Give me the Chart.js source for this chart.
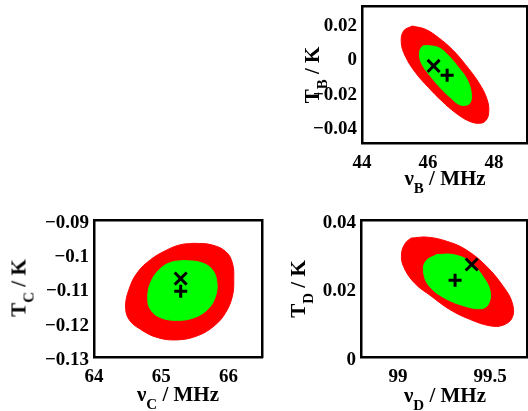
<!DOCTYPE html>
<html><head><meta charset="utf-8">
<script src="https://cdn.jsdelivr.net/npm/chart.js@4"></script>
<style>
html,body{margin:0;padding:0;background:#fff;}
body{width:528px;height:411px;position:relative;overflow:hidden;font-family:"Liberation Serif","Times New Roman",serif;font-weight:bold;}
canvas{position:absolute;}
.t{position:absolute;font-size:21px;line-height:21px;white-space:nowrap;color:#000;}
.t sub{font-size:15px;vertical-align:-8px;line-height:0;}
.ty{transform:translate(-50%,-50%) rotate(-90deg);}
.tx{transform:translate(-50%,0);}
</style></head><body>
<canvas id="cB" width="258" height="205" style="left:270px;top:0px"></canvas>
<canvas id="cC" width="270" height="206" style="left:0px;top:205px"></canvas>
<canvas id="cD" width="258" height="206" style="left:270px;top:205px"></canvas>
<div class="t ty" style="left:312px;top:75px">T<sub>B</sub> / K</div>
<div class="t tx" style="left:445px;top:168px">ν<sub>B</sub> / MHz</div>
<div class="t ty" style="left:19px;top:288px">T<sub>C</sub> / K</div>
<div class="t tx" style="left:178px;top:384px">ν<sub>C</sub> / MHz</div>
<div class="t ty" style="left:298px;top:289px">T<sub>D</sub> / K</div>
<div class="t tx" style="left:445px;top:385px">ν<sub>D</sub> / MHz</div>
<script>
// ---- Panel B ----
const bOuterX = [45.52,45.92,46.32,46.73,47.13,47.54,47.79,47.84,47.74,47.54,47.23,46.83,46.42,46.02,45.62,45.31,45.19,45.26,45.52];
const bOuterY = [0.0183,0.0164,0.0115,0.0047,-0.0041,-0.0148,-0.0245,-0.0323,-0.0371,-0.0385,-0.0371,-0.0323,-0.0255,-0.0177,-0.0089,0.0008,0.0086,0.0154,0.0183];
const bInnerX = [45.97,46.32,46.63,46.93,47.18,47.31,47.28,47.13,46.93,46.68,46.37,46.07,45.82,45.74,45.82,45.97];
const bInnerY = [0.0070,0.0057,0.0008,-0.0060,-0.0128,-0.0206,-0.0264,-0.0280,-0.0274,-0.0235,-0.0177,-0.0109,-0.0041,0.0018,0.0063,0.0070];
const bXMark = [46.17, -0.0050];
const bPlusMark = [46.58, -0.0105];
const bXTicks = [44, 46, 48];
const bYTicks = [0.02, 0, -0.02, -0.04];
const bXRange = [44, 49];
const bYRange = [-0.05, 0.03];

// ---- Panel C ----
const cOuterX = [65.49,65.74,65.96,66.06,66.08,66.06,65.96,65.79,65.54,65.24,64.94,64.69,64.52,64.47,64.52,64.64,64.84,65.09,65.29,65.49];
const cOuterY = [-0.0968,-0.0972,-0.0992,-0.1026,-0.1074,-0.1122,-0.1170,-0.1209,-0.1238,-0.1250,-0.1243,-0.1219,-0.1190,-0.1151,-0.1103,-0.1055,-0.1016,-0.0987,-0.0972,-0.0968];
const cInnerX = [65.34,65.59,65.76,65.83,65.80,65.69,65.49,65.24,64.99,64.84,64.80,64.84,64.97,65.14,65.34];
const cInnerY = [-0.1018,-0.1024,-0.1045,-0.1084,-0.1127,-0.1161,-0.1185,-0.1193,-0.1185,-0.1161,-0.1127,-0.1084,-0.1045,-0.1024,-0.1018];
const cXMark = [65.29, -0.1071];
const cPlusMark = [65.29, -0.1108];
const cXTicks = [64, 65, 66];
const cYTicks = [-0.09, -0.1, -0.11, -0.12, -0.13];
const cXRange = [64, 66.5];
const cYRange = [-0.13, -0.09];

// ---- Panel D ----
const dOuterX = [99.07,99.16,99.27,99.37,99.48,99.57,99.62,99.62,99.57,99.50,99.39,99.28,99.18,99.09,99.03,99.02,99.04,99.07];
const dOuterY = [0.0347,0.0350,0.0337,0.0313,0.0265,0.0207,0.0158,0.0115,0.0093,0.0091,0.0110,0.0139,0.0178,0.0216,0.0265,0.0303,0.0332,0.0347];
const dInnerX = [99.21,99.30,99.39,99.46,99.50,99.49,99.45,99.36,99.25,99.17,99.14,99.15,99.21];
const dInnerY = [0.0299,0.0299,0.0279,0.0236,0.0192,0.0154,0.0141,0.0149,0.0173,0.0207,0.0245,0.0279,0.0299];
const dXMark = [99.40, 0.0270];
const dPlusMark = [99.31, 0.0224];
const dXTicks = [99, 99.5];
const dYTicks = [0, 0.02, 0.04];
const dXRange = [98.8, 99.7];
const dYRange = [0, 0.04];

const RED = '#ff0000', GREEN = '#00ff00';
const tickFont = {family: '"Liberation Serif","Times New Roman",serif', size: 19, weight: 'bold'};
const pts = (xs, ys) => xs.map((x, i) => ({x, y: ys[i]}));
const fmt = v => String(v).replace('-', '\u2212');
const noPad = s => { s.paddingTop = 0; s.paddingBottom = 0; s.paddingLeft = 0; s.paddingRight = 0; };

function makeChart(id, c) {
  const frame = {display: true, color: '#000', width: 2.5};
  new Chart(document.getElementById(id), {
    type: 'scatter',
    data: {datasets: [
      {data: pts(c.outerX, c.outerY), showLine: true, fill: 'shape', backgroundColor: RED, borderColor: RED, borderWidth: 1, pointRadius: 0, tension: 0.4, order: 3},
      {data: pts(c.innerX, c.innerY), showLine: true, fill: 'shape', backgroundColor: GREEN, borderColor: GREEN, borderWidth: 1, pointRadius: 0, tension: 0.4, order: 2},
      {data: [{x: c.xMark[0], y: c.xMark[1]}], pointStyle: 'crossRot', pointRadius: 8.5, borderColor: '#000', borderWidth: 3, order: 1},
      {data: [{x: c.plusMark[0], y: c.plusMark[1]}], pointStyle: 'cross', pointRadius: 6.5, borderColor: '#000', borderWidth: 3, order: 1}
    ]},
    options: {
      responsive: false, animation: false, devicePixelRatio: 1,
      layout: {padding: c.pad, autoPadding: false},
      plugins: {legend: {display: false}, tooltip: {enabled: false}},
      scales: {
        x: {type: 'linear', position: 'bottom', min: c.xRange[0], max: c.xRange[1],
            afterBuildTicks: s => { s.ticks = c.xTicks.map(v => ({value: v})); },
            ticks: {callback: fmt, font: tickFont, color: '#000', padding: 9, maxRotation: 0, autoSkip: false},
            grid: {display: false, drawTicks: false}, border: frame,
            afterFit: s => { s.height = c.xH; noPad(s); }},
        y: {type: 'linear', position: 'left', min: c.yRange[0], max: c.yRange[1],
            afterBuildTicks: s => { s.ticks = c.yTicks.map(v => ({value: v})); },
            ticks: {callback: fmt, font: tickFont, color: '#000', padding: 5, labelOffset: 3, autoSkip: false},
            grid: {display: false, drawTicks: false}, border: frame,
            afterFit: s => { s.width = c.yW; noPad(s); }},
        x2: {type: 'linear', position: 'top', min: c.xRange[0], max: c.xRange[1],
             ticks: {display: false}, grid: {display: false, drawTicks: false}, border: frame,
             afterFit: s => { s.height = 0; noPad(s); }},
        y2: {type: 'linear', position: 'right', min: c.yRange[0], max: c.yRange[1],
             ticks: {display: false}, grid: {display: false, drawTicks: false}, border: frame,
             afterFit: s => { s.width = 0; noPad(s); }}
      }
    }
  });
}

makeChart('cB', {outerX: bOuterX, outerY: bOuterY, innerX: bInnerX, innerY: bInnerY, xMark: bXMark, plusMark: bPlusMark,
  xTicks: bXTicks, yTicks: bYTicks, xRange: bXRange, yRange: bYRange, pad: {left: 0, right: 1, top: 6, bottom: 0}, xH: 62, yW: 92});
makeChart('cC', {outerX: cOuterX, outerY: cOuterY, innerX: cInnerX, innerY: cInnerY, xMark: cXMark, plusMark: cPlusMark,
  xTicks: cXTicks, yTicks: cYTicks, xRange: cXRange, yRange: cYRange, pad: {left: 0, right: 8, top: 15, bottom: 0}, xH: 54, yW: 94});
makeChart('cD', {outerX: dOuterX, outerY: dOuterY, innerX: dInnerX, innerY: dInnerY, xMark: dXMark, plusMark: dPlusMark,
  xTicks: dXTicks, yTicks: dYTicks, xRange: dXRange, yRange: dYRange, pad: {left: 0, right: 1, top: 15, bottom: 0}, xH: 54, yW: 91});
</script>
</body></html>
